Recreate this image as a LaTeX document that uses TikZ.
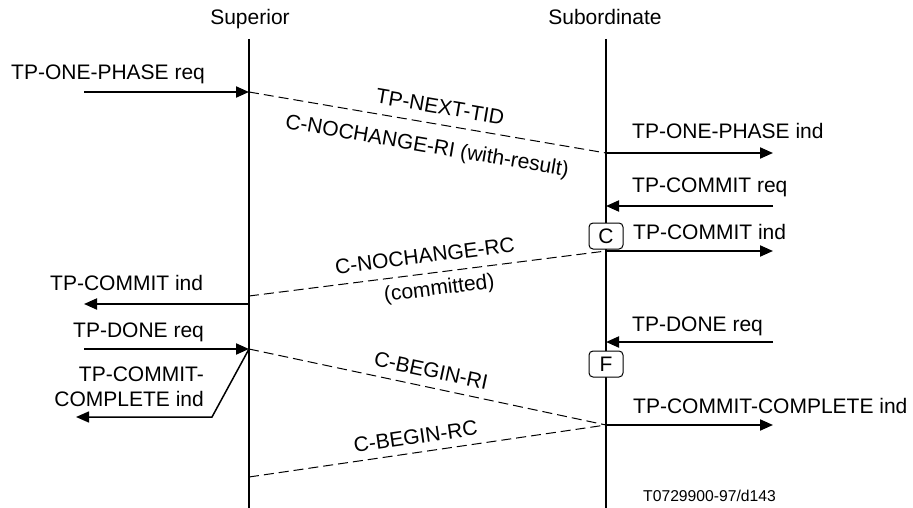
\documentclass[tikz,border=0pt]{standalone}
\usepackage{fontspec}
\setmainfont{Liberation Sans}
\usetikzlibrary{arrows.meta}
\begin{document}
\begin{tikzpicture}[x=1pt,y=-1pt,
  every node/.style={font=\fontsize{21}{25}\selectfont, inner sep=0pt},
  lifeline/.style={line width=2pt},
  msg/.style={line width=2pt, -{Triangle[length=13pt,width=11pt]}},
  bentmsg/.style={line width=1.5pt, -{Triangle[length=13pt,width=11pt]}},
  pdu/.style={line width=1pt, dash pattern=on 10pt off 5pt},
  statebox/.style={draw, line width=1pt, rounded corners=4pt, fill=white, minimum width=34pt, minimum height=26pt},
  small/.style={font=\fontsize{15.7}{18}\selectfont}]
\useasboundingbox (0,0) rectangle (913,508);

% headings
\node[anchor=base] (suplabel) at (250,25) {Superior};
\node[anchor=base] (sublabel) at (605,25) {Subordinate};

% lifelines
\coordinate (suptop) at (249,39);
\coordinate (supbot) at (249,508);
\coordinate (subtop) at (606,39);
\coordinate (subbot) at (606,508);
\draw[lifeline] (suptop) -- (supbot);
\draw[lifeline] (subtop) -- (subbot);

% event points on lifelines
\coordinate (s1) at (249,92);
\coordinate (b1) at (606,153);
\coordinate (b2) at (606,206);
\coordinate (b3) at (606,251);
\coordinate (s3) at (249,296);
\coordinate (s4) at (249,304);
\coordinate (s5) at (249,349);
\coordinate (b5) at (606,342);
\coordinate (b6) at (606,425);
\coordinate (s7) at (249,477);

% free ends
\coordinate (L1) at (84,92);
\coordinate (R1) at (773,153);
\coordinate (R2) at (773,206);
\coordinate (R3) at (773,251);
\coordinate (L4) at (84,304);
\coordinate (L5) at (84,349);
\coordinate (R5) at (773,342);
\coordinate (bend) at (212,417);
\coordinate (L6) at (76,417);
\coordinate (R6) at (773,425);

% dashed PDUs
\draw[pdu] (s1) -- node[sloped, pos=0.527, above=10pt] (pdu1a) {TP-NEXT-TID}
                   node[sloped, pos=0.51, below=14pt] (pdu1b) {C-NOCHANGE-RI (with-result)} (b1);
\draw[pdu] (s3) -- node[sloped, pos=0.499, above=10pt] (pdu2a) {C-NOCHANGE-RC}
                   node[sloped, pos=0.527, below=7pt] (pdu2b) {(committed)} (b3);
\draw[pdu] (s5) -- node[sloped, pos=0.5, above=9pt] (pdu3) {C-BEGIN-RI} (b6);
\draw[pdu] (s7) -- node[sloped, pos=0.473, above=8pt] (pdu4) {C-BEGIN-RC} (b6);

% service primitives
\draw[msg] (L1) -- (s1);
\draw[msg] (b1) -- (R1);
\draw[msg] (R2) -- (b2);
\draw[msg] (b3) -- (R3);
\draw[msg] (s4) -- (L4);
\draw[msg] (L5) -- (s5);
\draw[msg] (R5) -- (b5);
\draw[msg] (b6) -- (R6);
\draw[bentmsg] (s5) -- (bend) -- (L6);

% primitive labels
\node[anchor=base west] (t1) at (11,80) {TP-ONE-PHASE req};
\node[anchor=base west] (t2) at (632,139) {TP-ONE-PHASE ind};
\node[anchor=base west] (t3) at (632,193) {TP-COMMIT req};
\node[anchor=base west] (t4) at (633,239) {TP-COMMIT ind};
\node[anchor=base west] (t5) at (50,290) {TP-COMMIT ind};
\node[anchor=base west] (t6) at (73,337) {TP-DONE req};
\node[anchor=base west] (t7) at (632,331) {TP-DONE req};
\node[anchor=base west] (t8) at (633,413) {TP-COMMIT-COMPLETE ind};
\node[anchor=north east, align=right] (t9) at (204,367) {TP-COMMIT-\\COMPLETE ind};

% state boxes
\node[statebox] (cstate) at (606,236) {C};
\node[statebox] (fstate) at (606,364) {F};

% reference
\node[small, anchor=base west] (ref) at (643,501) {T0729900-97/d143};
\end{tikzpicture}
\end{document}
